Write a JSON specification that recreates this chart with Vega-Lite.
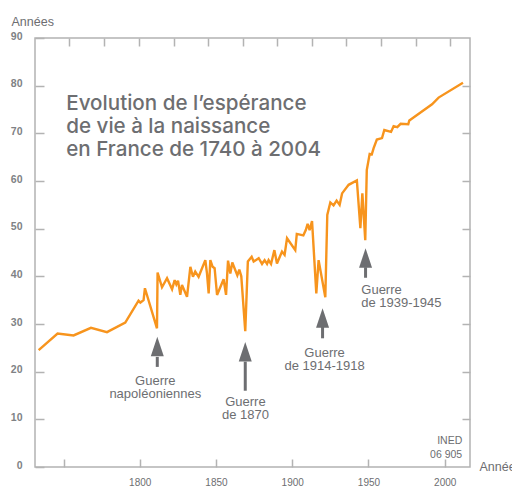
{
  "$schema": "https://vega.github.io/schema/vega-lite/v6.json",
  "width": 435,
  "height": 429,
  "autosize": {"type": "none"},
  "padding": {"left": 35, "top": 38, "right": 42, "bottom": 23},
  "background": "white",
  "config": {
    "view": {"stroke": "#b3b3b3", "strokeWidth": 1.5},
    "font": "Liberation Sans",
    "axis": {
      "domain": false,
      "grid": false,
      "tickColor": "#b3b3b3",
      "tickWidth": 1.5,
      "labelColor": "#6d6e71",
      "labelFont": "Liberation Sans",
      "labelFontSize": 10,
      "titleColor": "#6d6e71",
      "titleFont": "Liberation Sans",
      "titleFontSize": 12.5,
      "titleFontWeight": "normal"
    }
  },
  "datasets": {
    "life": [
      {"year": 1733.7, "e0": 24.5},
      {"year": 1746.1, "e0": 28.0},
      {"year": 1756.6, "e0": 27.6},
      {"year": 1768.0, "e0": 29.2},
      {"year": 1778.5, "e0": 28.3},
      {"year": 1790.5, "e0": 30.3},
      {"year": 1799.2, "e0": 34.9},
      {"year": 1800.4, "e0": 34.5},
      {"year": 1802.5, "e0": 35.0},
      {"year": 1803.4, "e0": 37.5},
      {"year": 1811.3, "e0": 29.1},
      {"year": 1811.7, "e0": 40.8},
      {"year": 1814.6, "e0": 37.7},
      {"year": 1817.9, "e0": 39.6},
      {"year": 1821.2, "e0": 37.3},
      {"year": 1822.9, "e0": 39.2},
      {"year": 1824.0, "e0": 38.3},
      {"year": 1825.1, "e0": 39.1},
      {"year": 1826.6, "e0": 36.1},
      {"year": 1827.7, "e0": 38.2},
      {"year": 1831.0, "e0": 35.7},
      {"year": 1833.2, "e0": 42.0},
      {"year": 1834.9, "e0": 39.9},
      {"year": 1836.4, "e0": 41.0},
      {"year": 1838.6, "e0": 39.9},
      {"year": 1843.0, "e0": 43.4},
      {"year": 1844.1, "e0": 40.6},
      {"year": 1845.2, "e0": 36.4},
      {"year": 1846.3, "e0": 43.4},
      {"year": 1847.8, "e0": 42.0},
      {"year": 1849.1, "e0": 41.7},
      {"year": 1850.7, "e0": 36.1},
      {"year": 1855.0, "e0": 39.4},
      {"year": 1856.6, "e0": 36.1},
      {"year": 1857.9, "e0": 43.3},
      {"year": 1859.4, "e0": 40.6},
      {"year": 1860.7, "e0": 42.9},
      {"year": 1864.0, "e0": 40.2},
      {"year": 1865.3, "e0": 41.4},
      {"year": 1866.6, "e0": 40.0},
      {"year": 1869.2, "e0": 28.5},
      {"year": 1870.9, "e0": 43.1},
      {"year": 1873.4, "e0": 44.1},
      {"year": 1874.7, "e0": 43.1},
      {"year": 1878.0, "e0": 43.8},
      {"year": 1880.2, "e0": 42.6},
      {"year": 1881.9, "e0": 43.4},
      {"year": 1883.5, "e0": 42.6},
      {"year": 1884.5, "e0": 43.4},
      {"year": 1886.1, "e0": 42.6},
      {"year": 1888.3, "e0": 45.5},
      {"year": 1890.0, "e0": 42.7},
      {"year": 1893.3, "e0": 45.2},
      {"year": 1895.0, "e0": 44.5},
      {"year": 1896.6, "e0": 48.0},
      {"year": 1902.0, "e0": 45.5},
      {"year": 1903.0, "e0": 48.9},
      {"year": 1907.3, "e0": 48.6},
      {"year": 1908.9, "e0": 49.7},
      {"year": 1910.1, "e0": 51.0},
      {"year": 1911.4, "e0": 49.7},
      {"year": 1913.0, "e0": 51.6},
      {"year": 1915.8, "e0": 36.4},
      {"year": 1917.3, "e0": 43.4},
      {"year": 1921.7, "e0": 35.6},
      {"year": 1923.0, "e0": 52.9},
      {"year": 1925.0, "e0": 55.5},
      {"year": 1927.1, "e0": 54.9},
      {"year": 1929.1, "e0": 55.9},
      {"year": 1931.1, "e0": 55.0},
      {"year": 1932.7, "e0": 57.4},
      {"year": 1937.0, "e0": 59.2},
      {"year": 1942.4, "e0": 60.1},
      {"year": 1944.7, "e0": 50.1},
      {"year": 1946.0, "e0": 57.4},
      {"year": 1947.9, "e0": 47.6},
      {"year": 1948.9, "e0": 62.3},
      {"year": 1950.8, "e0": 65.7},
      {"year": 1952.2, "e0": 65.6},
      {"year": 1953.4, "e0": 66.9},
      {"year": 1955.5, "e0": 68.7},
      {"year": 1958.9, "e0": 69.0},
      {"year": 1960.4, "e0": 70.7},
      {"year": 1964.8, "e0": 70.3},
      {"year": 1966.5, "e0": 71.5},
      {"year": 1968.9, "e0": 71.3},
      {"year": 1971.1, "e0": 72.0},
      {"year": 1976.1, "e0": 71.9},
      {"year": 1976.8, "e0": 72.7},
      {"year": 1991.7, "e0": 76.1},
      {"year": 1996.0, "e0": 77.5},
      {"year": 2012.0, "e0": 80.6}
    ],
    "arrows": [
      {"x": 1811.5, "tip": 27.3, "base": 23.1, "bottom": 21.0},
      {"x": 1869.2, "tip": 26.2, "base": 22.1, "bottom": 16.0},
      {"x": 1919.9, "tip": 33.3, "base": 29.4, "bottom": 27.0},
      {"x": 1948.1, "tip": 45.9, "base": 41.9, "bottom": 39.7}
    ],
    "labelsCenter": [
      {"x": 1810.2, "y": 17.3, "label": "Guerre\nnapoléoniennes"},
      {"x": 1869.3, "y": 12.9, "label": "Guerre\nde 1870"},
      {"x": 1921.2, "y": 23.1, "label": "Guerre\nde 1914-1918"}
    ],
    "labelsLeft": [
      {"x": 1945.3, "y": 36.3, "label": "Guerre\nde 1939-1945"}
    ],
    "heading": [
      {"x": 1751.8, "y": 74.8, "label": "Evolution de l’espérance\nde vie à la naissance\nen France de 1740 à 2004"}
    ],
    "source": [
      {"x": 2011.5, "y": 4.8, "label": "INED\n06 905"}
    ]
  },
  "layer": [
    {
      "data": {"name": "life"},
      "mark": {"type": "line", "color": "#f7941d", "strokeWidth": 2.4, "strokeJoin": "miter", "strokeMiterLimit": 3},
      "encoding": {
        "x": {
          "field": "year", "type": "quantitative",
          "scale": {"domain": [1731.3, 2016.6], "nice": false, "zero": false},
          "axis": {
            "orient": "bottom",
            "values": [1750, 1800, 1850, 1900, 1950, 2000],
            "format": "d",
            "labelExpr": "datum.value == 1750 ? '' : datum.label",
            "tickSize": -8,
            "labelPadding": 18,
            "title": "Années",
            "titleAlign": "left",
            "titleBaseline": "alphabetic",
            "titleX": 444,
            "titleY": 3
          }
        },
        "y": {
          "field": "e0", "type": "quantitative",
          "scale": {"domain": [0, 90], "nice": false, "zero": false},
          "axis": {
            "orient": "left",
            "values": [0, 10, 20, 30, 40, 50, 60, 70, 80, 90],
            "tickSize": -9,
            "labelPadding": 22,
            "labelFontSize": 10.5,
            "labelFontWeight": "bold",
            "labelColor": "#808285",
            "labelOffset": -2,
            "title": "Années",
            "titleAngle": 0,
            "titleAlign": "left",
            "titleBaseline": "alphabetic",
            "titleX": -24,
            "titleY": -13
          }
        }
      }
    },
    {
      "data": {"name": "arrows"},
      "mark": {"type": "rule", "color": "#6d6e71", "strokeWidth": 3},
      "encoding": {
        "x": {
          "field": "x", "type": "quantitative",
          "scale": {"domain": [1731.3, 2016.6], "nice": false, "zero": false},
          "axis": {
            "orient": "top",
            "values": [1753.8, 1776.6, 1799.3, 1822.2, 1844.5, 1867.5, 1890.0, 1913.0, 1935.5, 1958.2, 1981.2, 2003.7],
            "labels": false,
            "tickSize": -8,
            "title": null
          }
        },
        "y": {
          "field": "base", "type": "quantitative",
          "scale": {"domain": [0, 90], "nice": false, "zero": false},
          "axis": {
            "orient": "right",
            "values": [10, 20, 30, 40, 50, 60, 70, 80],
            "labels": false,
            "tickSize": -8,
            "title": null
          }
        },
        "y2": {"field": "bottom"}
      }
    },
    {
      "data": {"name": "arrows"},
      "mark": {"type": "point", "shape": "M0,0L0.65,1.95L-0.65,1.95Z", "size": 400, "filled": true, "color": "#6d6e71", "opacity": 1, "strokeWidth": 0},
      "encoding": {
        "x": {"field": "x", "type": "quantitative", "scale": {"domain": [1731.3, 2016.6], "nice": false, "zero": false}, "axis": null},
        "y": {"field": "tip", "type": "quantitative", "scale": {"domain": [0, 90], "nice": false, "zero": false}, "axis": null}
      }
    },
    {
      "data": {"name": "labelsCenter"},
      "mark": {"type": "text", "align": "center", "baseline": "alphabetic", "lineBreak": "\n", "lineHeight": 13.5, "fontSize": 13, "color": "#6d6e71", "font": "Liberation Sans"},
      "encoding": {
        "x": {"field": "x", "type": "quantitative", "scale": {"domain": [1731.3, 2016.6], "nice": false, "zero": false}, "axis": null},
        "y": {"field": "y", "type": "quantitative", "scale": {"domain": [0, 90], "nice": false, "zero": false}, "axis": null},
        "text": {"field": "label"}
      }
    },
    {
      "data": {"name": "labelsLeft"},
      "mark": {"type": "text", "align": "left", "baseline": "alphabetic", "lineBreak": "\n", "lineHeight": 13.5, "fontSize": 13, "color": "#6d6e71", "font": "Liberation Sans"},
      "encoding": {
        "x": {"field": "x", "type": "quantitative", "scale": {"domain": [1731.3, 2016.6], "nice": false, "zero": false}, "axis": null},
        "y": {"field": "y", "type": "quantitative", "scale": {"domain": [0, 90], "nice": false, "zero": false}, "axis": null},
        "text": {"field": "label"}
      }
    },
    {
      "data": {"name": "heading"},
      "mark": {"type": "text", "align": "left", "baseline": "alphabetic", "lineBreak": "\n", "lineHeight": 23, "fontSize": 20.6, "fontWeight": 500, "color": "#6d6e71", "font": "Inter"},
      "encoding": {
        "x": {"field": "x", "type": "quantitative", "scale": {"domain": [1731.3, 2016.6], "nice": false, "zero": false}, "axis": null},
        "y": {"field": "y", "type": "quantitative", "scale": {"domain": [0, 90], "nice": false, "zero": false}, "axis": null},
        "text": {"field": "label"}
      }
    },
    {
      "data": {"name": "source"},
      "mark": {"type": "text", "align": "right", "baseline": "alphabetic", "lineBreak": "\n", "lineHeight": 14, "fontSize": 10.5, "color": "#6d6e71", "font": "Liberation Sans"},
      "encoding": {
        "x": {"field": "x", "type": "quantitative", "scale": {"domain": [1731.3, 2016.6], "nice": false, "zero": false}, "axis": null},
        "y": {"field": "y", "type": "quantitative", "scale": {"domain": [0, 90], "nice": false, "zero": false}, "axis": null},
        "text": {"field": "label"}
      }
    }
  ],
  "resolve": {"axis": {"x": "independent", "y": "independent"}}
}
